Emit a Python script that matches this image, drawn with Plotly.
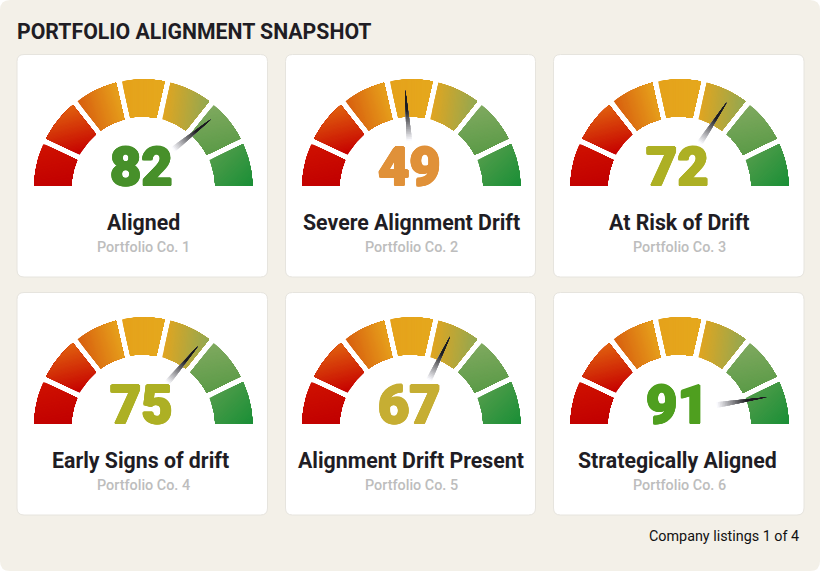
import math

import plotly.graph_objects as go

# values
scores = [82, 49, 72, 75, 67, 91]
labels = ["Aligned", "Severe Alignment Drift", "At Risk of Drift",
          "Early Signs of drift", "Alignment Drift Present", "Strategically Aligned"]
companies = ["Portfolio Co. 1", "Portfolio Co. 2", "Portfolio Co. 3",
             "Portfolio Co. 4", "Portfolio Co. 5", "Portfolio Co. 6"]
score_colors = ["#47902a", "#e09139", "#adb024", "#adb024", "#c6ae33", "#4f9f1f"]
label_shift = [0, 0, 0, -3, 0, -2.5]

# needle ends, degrees from the left-to-right baseline (the needles are not quite radial)
needle_tip_deg = [45.7, 93.5, 61.3, 55.8, 66.7, 18.6]
needle_tip_r = [97, 98.8, 98.4, 97.4, 97.9, 92]
needle_base_deg = [52.6, 92.4, 65.9, 61.3, 69.2, 30.1]
needle_base_r = [49.4, 48, 50, 50, 50, 43]

# the seven bands, left to right
band_start = ["#cf1200", "#c60000", "#d8600f", "#e5a21b", "#e0a521", "#7fa95f", "#4f9c4a"]
band_end = ["#c10000", "#e0600f", "#e6a01c", "#e5a81d", "#93a851", "#5c9b48", "#1b8f37"]
band_dir = [(0.2, 1), (-0.25, -1), (1, -0.3), (1, 0), (1, 0.1), (0.2, 1), (0.7, 0.7)]

W, H = 821, 572
CARD_X = [(17, 267.5), (285.5, 535.5), (553.5, 804)]
CARD_Y = [(54.5, 277), (292.5, 515)]
GAUGE_X = [143.3, 411.3, 679.5]
GAUGE_Y = [188.6, 426.6]
R_IN, R_OUT = 72, 109.3
HALF_GAP = 3
N_STEPS = 36
N_NEEDLE = 30


def rounded(x0, y0, x1, y1, r):
    return (f"M{x0+r},{y0} L{x1-r},{y0} Q{x1},{y0} {x1},{y0+r} L{x1},{y1-r} Q{x1},{y1} {x1-r},{y1} "
            f"L{x0+r},{y1} Q{x0},{y1} {x0},{y1-r} L{x0},{y0+r} Q{x0},{y0} {x0+r},{y0} Z")


def hex_rgb(c):
    return [int(c[i:i + 2], 16) for i in (1, 3, 5)]


def polar(cx, cy, r, a):
    return cx + r * math.cos(a), cy - r * math.sin(a)


def clip(poly, dx, dy, limit):
    # keep the part of the polygon where x*dx + y*dy >= limit
    out = []
    for k in range(len(poly)):
        p, q = poly[k], poly[(k + 1) % len(poly)]
        vp, vq = p[0] * dx + p[1] * dy - limit, q[0] * dx + q[1] * dy - limit
        if vp >= 0:
            out.append(p)
        if (vp >= 0) != (vq >= 0):
            f = vp / (vp - vq)
            out.append((p[0] + (q[0] - p[0]) * f, p[1] + (q[1] - p[1]) * f))
    return out


centers = [(x, y) for y in GAUGE_Y for x in GAUGE_X]
shapes = [dict(type="path", path=rounded(0, 0, W - 1, H - 1, 10), fillcolor="#f3f0e8",
               line=dict(width=0), layer="below")]
for y0, y1 in CARD_Y:
    for x0, x1 in CARD_X:
        shapes.append(dict(type="path", path=rounded(x0, y0, x1, y1, 7), fillcolor="#ffffff",
                           line=dict(color="#e6e4de", width=1), layer="below"))

fig = go.Figure()

# each band is repainted in shrinking slices along its gradient direction
step = math.pi / len(band_start)
for b in range(len(band_start)):
    a0, a1 = math.pi - (b + 1) * step, math.pi - b * step
    c0, c1 = hex_rgb(band_start[b]), hex_rgb(band_end[b])
    dx, dy = band_dir[b]

    def edge(r, u):
        lo, hi = a0 + HALF_GAP / r, a1 - HALF_GAP / r
        return lo + (hi - lo) * u

    us = [k / 40 for k in range(41)]
    outline = [polar(0, 0, R_IN, edge(R_IN, u)) for u in us]
    outline += [polar(0, 0, R_OUT, edge(R_OUT, u)) for u in reversed(us)]
    proj = [px * dx + py * dy for px, py in outline]
    p_min, p_max = min(proj), max(proj)

    for s in range(N_STEPS):
        t = s / (N_STEPS - 1)
        rgb = [round(c0[k] + (c1[k] - c0[k]) * t) for k in range(3)]
        color = f"rgb({rgb[0]},{rgb[1]},{rgb[2]})"
        piece = clip(outline, dx, dy, p_min + (p_max - p_min) * s / N_STEPS) if s else outline
        xs, ys = [], []
        for cx, cy in centers:
            xs += [cx + p[0] for p in piece] + [cx + piece[0][0], None]
            ys += [cy + p[1] for p in piece] + [cy + piece[0][1], None]
        fig.add_trace(go.Scatter(x=xs, y=ys, mode="lines", fill="toself", fillcolor=color,
                                 line=dict(width=0), hoverinfo="skip", showlegend=False))

# needles: a thin triangle that fades out towards its base
for n, (cx, cy) in enumerate(centers):
    tx, ty = polar(cx, cy, needle_tip_r[n], math.radians(needle_tip_deg[n]))
    bx, by = polar(cx, cy, needle_base_r[n], math.radians(needle_base_deg[n]))
    length = math.hypot(tx - bx, ty - by)
    nx, ny = -(ty - by) / length, (tx - bx) / length
    half = 2.9
    for s in range(N_NEEDLE):
        f0 = s / N_NEEDLE
        w0 = half * (1 - f0)
        px0, py0 = bx + (tx - bx) * f0, by + (ty - by) * f0
        alpha = min(1, (s + 0.5) / N_NEEDLE / 0.6)
        grey = round(255 - (255 - 28) * alpha)
        color = f"rgb({grey},{grey},{min(255, grey + 4)})"
        fig.add_trace(go.Scatter(
            x=[px0 + nx * w0, tx, px0 - nx * w0, px0 + nx * w0],
            y=[py0 + ny * w0, ty, py0 - ny * w0, py0 + ny * w0],
            mode="lines", fill="toself", fillcolor=color, line=dict(width=0),
            hoverinfo="skip", showlegend=False))

annotations = [
    dict(x=15, y=31, text="PORTFOLIO ALIGNMENT SNAPSHOT", xanchor="left", yanchor="middle",
         showarrow=False, font=dict(family="Roboto", size=21.25, color="#1f1d24", weight=700)),
    dict(x=800.7, y=536.5, text="Company listings 1 of 4", xanchor="right", yanchor="middle",
         showarrow=False, font=dict(family="Roboto", size=14.35, color="#111111")),
]
for n, (cx, cy) in enumerate(centers):
    # Roboto Black is not installed, so the bold digits are thickened with a same-colour shadow
    c = score_colors[n]
    halo = ", ".join(f"{ox}px {oy}px 0 {c}" for ox, oy in
                     [(0.9, 0), (-0.9, 0), (0, 0.7), (0, -0.7), (0.7, 0.5), (-0.7, 0.5), (0.7, -0.5), (-0.7, -0.5)])
    annotations.append(dict(x=cx - 2, y=cy - 22, text=str(scores[n]), xanchor="center", yanchor="middle",
                            showarrow=False,
                            font=dict(family="Roboto", size=54, color=c, weight=900, shadow=halo)))
    annotations.append(dict(x=cx + label_shift[n], y=cy + 33.5, text=labels[n], xanchor="center", yanchor="middle",
                            showarrow=False,
                            font=dict(family="Roboto", size=21.3, color="#1f1d24", weight=700)))
    annotations.append(dict(x=cx, y=cy + 58.5, text=companies[n], xanchor="center", yanchor="middle",
                            showarrow=False,
                            font=dict(family="Roboto", size=14.4, color="#bdbdbd", weight=500)))

fig.update_layout(
    width=W, height=H, margin=dict(l=0, r=0, t=0, b=0),
    paper_bgcolor="#ffffff", plot_bgcolor="rgba(0,0,0,0)",
    shapes=shapes, annotations=annotations, showlegend=False, hovermode=False,
    xaxis=dict(range=[0, W], visible=False, fixedrange=True),
    yaxis=dict(range=[H, 0], visible=False, fixedrange=True),
)
fig.write_html("out.html", config=dict(displayModeBar=False),
               post_script="document.body.style.margin='0';document.documentElement.style.overflow='hidden';")
